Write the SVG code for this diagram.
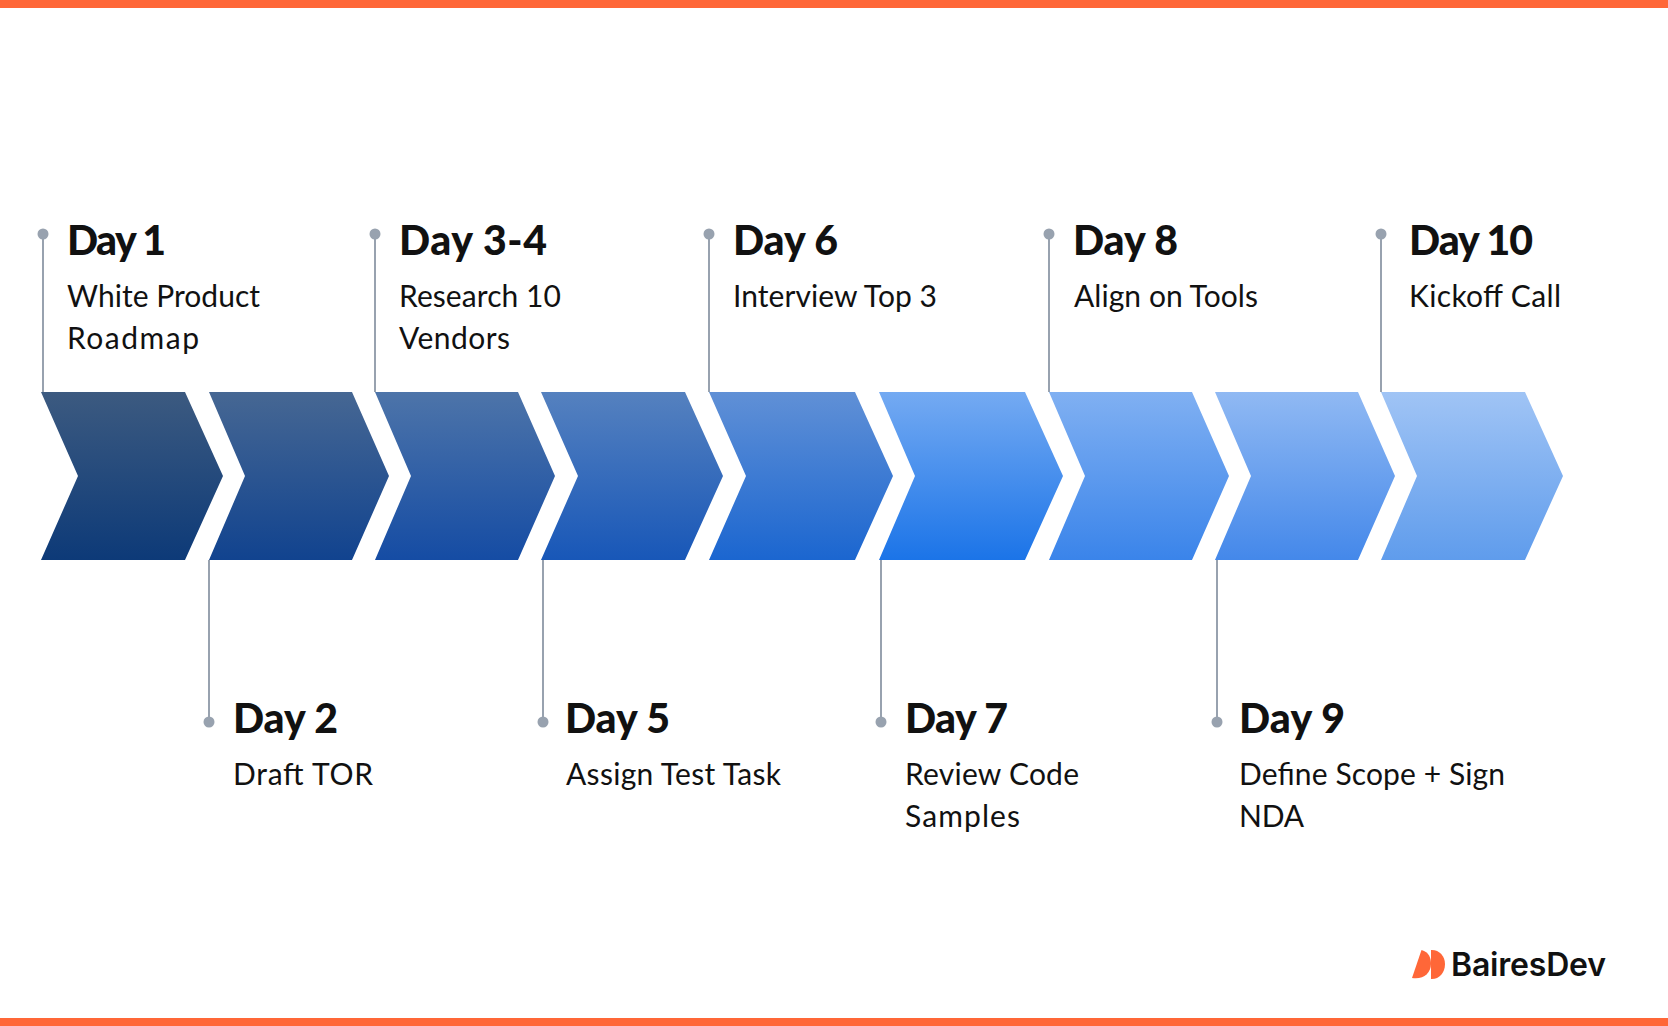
<svg xmlns="http://www.w3.org/2000/svg" width="1668" height="1026" viewBox="0 0 1668 1026">
<style>
.t{font-family:"Lato","Liberation Sans",sans-serif;font-weight:900;font-size:41px;fill:#111}
.s{font-family:"Lato","Liberation Sans",sans-serif;font-weight:400;font-size:30px;fill:#111}
.c{stroke:#98A2AF;stroke-width:2;fill:none}
.d{fill:#98A2AF}
.b{fill:#FF6738}
</style>
<defs>
<linearGradient id="g1" x1="0" y1="0" x2="0" y2="1"><stop offset="0" stop-color="#3C5A80"/><stop offset="1" stop-color="#0D3A78"/></linearGradient>
<linearGradient id="g2" x1="0" y1="0" x2="0" y2="1"><stop offset="0" stop-color="#466793"/><stop offset="1" stop-color="#11438F"/></linearGradient>
<linearGradient id="g3" x1="0" y1="0" x2="0" y2="1"><stop offset="0" stop-color="#4D74A9"/><stop offset="1" stop-color="#154CA4"/></linearGradient>
<linearGradient id="g4" x1="0" y1="0" x2="0" y2="1"><stop offset="0" stop-color="#5581BF"/><stop offset="1" stop-color="#1857B8"/></linearGradient>
<linearGradient id="g5" x1="0" y1="0" x2="0" y2="1"><stop offset="0" stop-color="#6090D6"/><stop offset="1" stop-color="#1B66D0"/></linearGradient>
<linearGradient id="g6" x1="0" y1="0" x2="0" y2="1"><stop offset="0" stop-color="#74AAF2"/><stop offset="1" stop-color="#1B74E8"/></linearGradient>
<linearGradient id="g7" x1="0" y1="0" x2="0" y2="1"><stop offset="0" stop-color="#80B0F2"/><stop offset="1" stop-color="#3A84EA"/></linearGradient>
<linearGradient id="g8" x1="0" y1="0" x2="0" y2="1"><stop offset="0" stop-color="#90B9F3"/><stop offset="1" stop-color="#4488EA"/></linearGradient>
<linearGradient id="g9" x1="0" y1="0" x2="0" y2="1"><stop offset="0" stop-color="#A0C4F5"/><stop offset="1" stop-color="#5F9CEC"/></linearGradient>
</defs>
<rect class="b" x="0" y="0" width="1668" height="8"/>
<rect class="b" x="0" y="1018" width="1668" height="8"/>
<g id="connectors">
<path class="c" d="M43 234V392M375 234V392M709 234V392M1049 234V392M1381 234V392M209 560V722M543 560V722M881 560V722M1217 560V722"/>
</g>
<g id="chevrons">
<polygon id="ch1" fill="url(#g1)" points="41,392 185,392 223,476 185,560 41,560 78,476"/>
<polygon id="ch2" fill="url(#g2)" points="209,392 352,392 389,476 352,560 209,560 245,476"/>
<polygon id="ch3" fill="url(#g3)" points="375,392 518,392 555,476 518,560 375,560 411,476"/>
<polygon id="ch4" fill="url(#g4)" points="541,392 685,392 723,476 685,560 541,560 578,476"/>
<polygon id="ch5" fill="url(#g5)" points="709,392 855,392 893,476 855,560 709,560 746,476"/>
<polygon id="ch6" fill="url(#g6)" points="879,392 1025,392 1063,476 1025,560 879,560 915,476"/>
<polygon id="ch7" fill="url(#g7)" points="1049,392 1192,392 1229,476 1192,560 1049,560 1085,476"/>
<polygon id="ch8" fill="url(#g8)" points="1215,392 1358,392 1395,476 1358,560 1215,560 1251,476"/>
<polygon id="ch9" fill="url(#g9)" points="1381,392 1525,392 1563,476 1525,560 1381,560 1417,476"/>
</g>
<g id="day1"><circle class="d" cx="43" cy="234" r="5.5"/><text class="t" x="67" y="255" textLength="99">Day 1</text><text class="s" x="67" y="307" textLength="193">White Product</text><text class="s" x="67" y="349" textLength="132">Roadmap</text></g>
<g id="day2"><circle class="d" cx="209" cy="722" r="5.5"/><text class="t" x="233" y="733" textLength="105">Day 2</text><text class="s" x="233" y="785" textLength="140">Draft TOR</text></g>
<g id="day3"><circle class="d" cx="375" cy="234" r="5.5"/><text class="t" x="399" y="255" textLength="148">Day 3-4</text><text class="s" x="399" y="307" textLength="162">Research 10</text><text class="s" x="399" y="349" textLength="111">Vendors</text></g>
<g id="day5"><circle class="d" cx="543" cy="722" r="5.5"/><text class="t" x="565" y="733" textLength="105">Day 5</text><text class="s" x="566" y="785" textLength="215">Assign Test Task</text></g>
<g id="day6"><circle class="d" cx="709" cy="234" r="5.5"/><text class="t" x="733" y="255" textLength="105">Day 6</text><text class="s" x="733" y="307" textLength="204">Interview Top 3</text></g>
<g id="day7"><circle class="d" cx="881" cy="722" r="5.5"/><text class="t" x="905" y="733" textLength="103">Day 7</text><text class="s" x="905" y="785" textLength="174">Review Code</text><text class="s" x="905" y="827" textLength="115">Samples</text></g>
<g id="day8"><circle class="d" cx="1049" cy="234" r="5.5"/><text class="t" x="1073" y="255" textLength="105">Day 8</text><text class="s" x="1074" y="307" textLength="184">Align on Tools</text></g>
<g id="day9"><circle class="d" cx="1217" cy="722" r="5.5"/><text class="t" x="1239" y="733" textLength="106">Day 9</text><text class="s" x="1239" y="785" textLength="266">Define Scope + Sign</text><text class="s" x="1239" y="827" textLength="65">NDA</text></g>
<g id="day10"><circle class="d" cx="1381" cy="234" r="5.5"/><text class="t" x="1409" y="255" textLength="124">Day 10</text><text class="s" x="1409" y="307" textLength="152">Kickoff Call</text></g>
<g id="logo">
<path class="b" d="M1412 978 L1421.500 950 C1429 952 1431 958 1431 964 C1431 973 1423 980 1412 978Z"/>
<path class="b" d="M1431 950 C1439 949.500 1445 956 1445 964 C1445 973 1439 979.500 1431 979Z"/>
<text x="1451" y="976" textLength="155" style="font-family:Inter,sans-serif;font-weight:600;font-size:32px;fill:#111">BairesDev</text>
</g>
</svg>
